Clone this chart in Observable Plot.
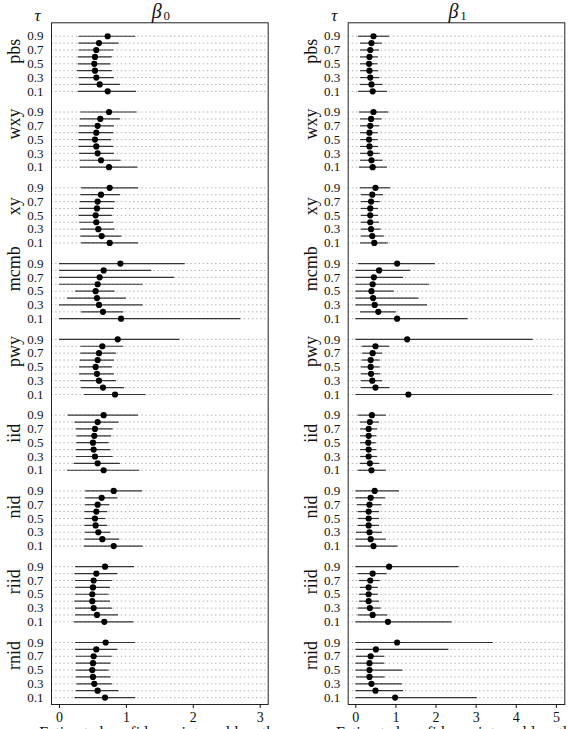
<!DOCTYPE html>
<html>
<head>
<meta charset="utf-8">
<script src="https://cdn.jsdelivr.net/npm/d3@7"></script>
<script src="https://cdn.jsdelivr.net/npm/@observablehq/plot@0.6"></script>
<style>
  html, body { margin: 0; padding: 0; background: #fff; overflow: hidden; }
  #wrap { display: flex; width: 574px; height: 729px; }
  #wrap svg { flex: none; }
</style>
</head>
<body>
<div id="wrap"></div>
<script>
// Inference methods (top to bottom) and quantile levels within each block (top to bottom)
const methods = ["pbs", "wxy", "xy", "mcmb", "pwy", "iid", "nid", "riid", "rnid"];
const taus = [0.9, 0.8, 0.7, 0.6, 0.5, 0.4, 0.3, 0.2, 0.1];

// beta_0: lower end, point estimate, upper end of the interval-length spread (9 values per method)
const b0Low = [
  0.29, 0.29, 0.29, 0.28, 0.28, 0.27, 0.29, 0.30, 0.28,
  0.32, 0.31, 0.30, 0.29, 0.29, 0.29, 0.30, 0.31, 0.31,
  0.33, 0.32, 0.31, 0.30, 0.29, 0.30, 0.32, 0.32, 0.33,
  0.00, 0.00, 0.00, 0.00, 0.24, 0.12, 0.00, 0.33, 0.00,
  0.00, 0.32, 0.32, 0.31, 0.30, 0.30, 0.32, 0.33, 0.37,
  0.13, 0.23, 0.25, 0.26, 0.26, 0.25, 0.25, 0.22, 0.12,
  0.39, 0.39, 0.39, 0.38, 0.38, 0.38, 0.39, 0.38, 0.37,
  0.24, 0.23, 0.24, 0.24, 0.24, 0.23, 0.24, 0.24, 0.22,
  0.24, 0.24, 0.25, 0.25, 0.25, 0.25, 0.26, 0.25, 0.23
];
const b0Est = [
  0.72, 0.59, 0.55, 0.53, 0.52, 0.53, 0.55, 0.60, 0.72,
  0.74, 0.61, 0.57, 0.55, 0.53, 0.55, 0.57, 0.62, 0.74,
  0.75, 0.62, 0.57, 0.56, 0.54, 0.55, 0.58, 0.63, 0.75,
  0.91, 0.66, 0.60, 0.57, 0.54, 0.56, 0.59, 0.65, 0.92,
  0.87, 0.64, 0.59, 0.57, 0.54, 0.56, 0.59, 0.65, 0.83,
  0.66, 0.57, 0.53, 0.52, 0.50, 0.51, 0.53, 0.57, 0.66,
  0.81, 0.63, 0.57, 0.55, 0.53, 0.54, 0.58, 0.64, 0.81,
  0.68, 0.55, 0.51, 0.50, 0.49, 0.49, 0.51, 0.56, 0.67,
  0.69, 0.55, 0.51, 0.50, 0.49, 0.50, 0.52, 0.57, 0.68
];
const b0High = [
  1.14, 0.89, 0.81, 0.79, 0.77, 0.79, 0.82, 0.91, 1.15,
  1.16, 0.91, 0.82, 0.81, 0.78, 0.81, 0.82, 0.92, 1.17,
  1.18, 0.91, 0.83, 0.82, 0.79, 0.81, 0.83, 0.93, 1.18,
  1.88, 1.38, 1.72, 1.25, 0.83, 1.00, 1.25, 0.96, 2.71,
  1.80, 0.96, 0.85, 0.82, 0.79, 0.82, 0.85, 0.97, 1.29,
  1.18, 0.89, 0.80, 0.78, 0.74, 0.77, 0.80, 0.91, 1.20,
  1.24, 0.87, 0.75, 0.72, 0.69, 0.72, 0.77, 0.90, 1.25,
  1.12, 0.87, 0.79, 0.76, 0.74, 0.76, 0.79, 0.88, 1.11,
  1.14, 0.87, 0.79, 0.77, 0.74, 0.77, 0.79, 0.89, 1.14
];

// beta_1: same layout
const b1Low = [
  0.07, 0.12, 0.12, 0.12, 0.12, 0.12, 0.12, 0.11, 0.07,
  0.09, 0.12, 0.12, 0.12, 0.12, 0.12, 0.12, 0.12, 0.09,
  0.11, 0.14, 0.14, 0.14, 0.14, 0.14, 0.14, 0.14, 0.12,
  0.07, 0.00, 0.00, 0.00, 0.00, 0.00, 0.00, 0.12, 0.00,
  0.00, 0.16, 0.17, 0.16, 0.14, 0.14, 0.14, 0.14, 0.00,
  0.06, 0.11, 0.12, 0.12, 0.12, 0.12, 0.12, 0.11, 0.06,
  0.00, 0.00, 0.04, 0.06, 0.06, 0.06, 0.02, 0.00, 0.00,
  0.00, 0.06, 0.09, 0.11, 0.09, 0.09, 0.06, 0.06, 0.00,
  0.00, 0.00, 0.02, 0.00, 0.00, 0.02, 0.00, 0.00, 0.00
];
const b1Est = [
  0.44, 0.39, 0.36, 0.34, 0.33, 0.34, 0.36, 0.39, 0.42,
  0.44, 0.38, 0.36, 0.34, 0.33, 0.34, 0.36, 0.39, 0.42,
  0.49, 0.41, 0.38, 0.36, 0.36, 0.36, 0.38, 0.41, 0.46,
  1.03, 0.58, 0.45, 0.42, 0.39, 0.43, 0.47, 0.56, 1.03,
  1.28, 0.49, 0.42, 0.37, 0.37, 0.38, 0.41, 0.49, 1.31,
  0.40, 0.35, 0.32, 0.32, 0.31, 0.32, 0.32, 0.35, 0.39,
  0.47, 0.37, 0.34, 0.32, 0.32, 0.32, 0.34, 0.37, 0.44,
  0.83, 0.42, 0.36, 0.32, 0.32, 0.32, 0.35, 0.42, 0.80,
  1.03, 0.50, 0.37, 0.34, 0.34, 0.34, 0.39, 0.49, 0.98
];
const b1High = [
  0.84, 0.66, 0.59, 0.56, 0.55, 0.57, 0.60, 0.68, 0.79,
  0.82, 0.65, 0.60, 0.56, 0.56, 0.57, 0.61, 0.68, 0.79,
  0.87, 0.69, 0.61, 0.57, 0.57, 0.59, 0.63, 0.71, 0.81,
  1.98, 1.37, 1.19, 1.84, 0.96, 1.57, 1.79, 1.01, 2.80,
  4.42, 0.84, 0.67, 0.61, 0.61, 0.62, 0.67, 0.85, 4.91,
  0.76, 0.59, 0.54, 0.52, 0.51, 0.52, 0.54, 0.60, 0.76,
  1.09, 0.74, 0.65, 0.59, 0.59, 0.59, 0.66, 0.76, 1.05,
  2.57, 0.78, 0.61, 0.56, 0.56, 0.59, 0.63, 0.80, 2.40,
  3.43, 2.32, 0.72, 0.72, 1.17, 0.73, 1.16, 1.19, 3.03
];

const b0Ticks = [0, 1, 2, 3];
const b1Ticks = [0, 1, 2, 3, 4, 5];
const xTitle = "Estimated confidence interval lengths";

// Each method block takes 9 rows plus a 2-row gap
const BLOCK = 11;
function buildRows(lo, est, hi) {
  return methods.flatMap((m, g) => taus.map((t, k) => ({
    method: m, tau: t, slot: g * BLOCK + k,
    lo: lo[g * 9 + k], est: est[g * 9 + k], hi: hi[g * 9 + k]
  })));
}

// only every other quantile level gets a label
const tauSlots = methods.flatMap((m, g) => [0, 2, 4, 6, 8].map(k => g * BLOCK + k));
const slotLabel = s => taus[s % BLOCK].toFixed(1);

function panel({rows, xDomain, ticks, marginLeft, marginRight, sub}) {
  return Plot.plot({
    width: 287,
    height: 729,
    marginTop: 22.3,
    marginBottom: 25,
    marginLeft,
    marginRight,
    style: {fontFamily: "'Liberation Serif', 'DejaVu Serif', serif", fontSize: "13px", color: "#111", background: "#fff"},
    x: {domain: xDomain},
    y: {domain: [97, -1.95]},
    marks: [
      // dotted guide at every row
      Plot.ruleY(rows, {y: "slot", stroke: "#b5b5b5", strokeWidth: 1, strokeDasharray: "1.5,2.6"}),
      // interval from lower to upper end
      Plot.ruleY(rows, {y: "slot", x1: "lo", x2: "hi", stroke: "#333", strokeWidth: 1.2}),
      Plot.dot(rows, {x: "est", y: "slot", r: 3.1, fill: "#000", stroke: "none"}),
      Plot.frame({stroke: "#222", strokeWidth: 1}),
      Plot.axisX({ticks, tickFormat: d3.format("d"), tickSize: 4, tickPadding: 4, fontSize: 14, label: null}),
      Plot.axisY({ticks: tauSlots, tickFormat: slotLabel, tickSize: 0, tickPadding: 8, fontSize: 13, label: null}),
      // method names, rotated, centred on each block
      Plot.text(methods, {
        y: (m, i) => i * BLOCK + 4, text: d => d,
        frameAnchor: "left", dx: -37, rotate: -90, fontSize: 18
      }),
      // tau header above the tick labels
      Plot.text(["τ"], {frameAnchor: "top-left", dx: -17, dy: -1.5, lineAnchor: "bottom", fontSize: 17, fontStyle: "italic"}),
      // panel title: beta with subscript
      Plot.text(["β"], {frameAnchor: "top", dx: -3, dy: -5, lineAnchor: "bottom", fontSize: 20, fontStyle: "italic"}),
      Plot.text([sub], {frameAnchor: "top", dx: 7, dy: -2.5, lineAnchor: "bottom", fontSize: 13}),
      // x-axis title, partly below the bottom edge
      Plot.text([xTitle], {frameAnchor: "bottom", dy: 33.5, lineAnchor: "bottom", fontSize: 16})
    ]
  });
}

const wrap = document.getElementById("wrap");
wrap.append(panel({
  rows: buildRows(b0Low, b0Est, b0High),
  xDomain: [-0.12, 3.12], ticks: b0Ticks, marginLeft: 51, marginRight: 19.3, sub: "0"
}));
wrap.append(panel({
  rows: buildRows(b1Low, b1Est, b1High),
  xDomain: [-0.19, 5.21], ticks: b1Ticks, marginLeft: 60.7, marginRight: 9.7, sub: "1"
}));
</script>
</body>
</html>
